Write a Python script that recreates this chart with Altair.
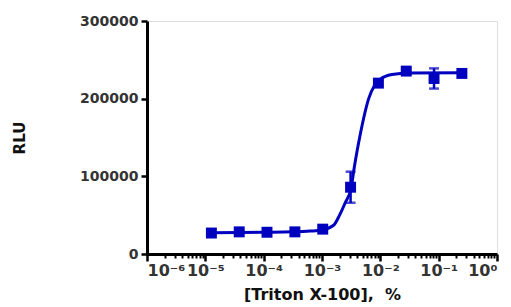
import json
import altair as alt
import pandas as pd

# Measured data points (Triton X-100 %, RLU, SD)
conc = [1.27e-5, 3.81e-5, 1.14e-4, 3.43e-4, 1.03e-3, 3.09e-3, 9.26e-3, 2.78e-2, 8.33e-2, 0.25]
rlu = [27000, 28500, 28000, 28500, 32000, 86000, 220000, 235500, 226000, 232500]
err = [1000, 800, 800, 800, 1500, 20000, 2500, 2000, 13000, 2500]

# Fitted curve
curve_x = [1.27e-5, 1e-4, 3.16e-4, 6.3e-4, 1e-3, 1.58e-3, 2e-3, 2.5e-3, 3.16e-3,
           3.55e-3, 3.98e-3, 4.47e-3, 5.01e-3, 6.31e-3, 7.94e-3, 1e-2, 1.58e-2,
           3.16e-2, 0.25]
curve_y = [27500, 28000, 28500, 29500, 31000, 37000, 50000, 66000, 85000,
           110000, 132000, 152000, 170000, 200000, 217000, 225000, 231000,
           233000, 233500]

# Axis ticks
x_major = [1e-6, 1e-5, 1e-4, 1e-3, 1e-2, 1e-1, 1]
x_labels = ["10⁻⁶", "10⁻⁵", "10⁻⁴", "10⁻³", "10⁻²", "10⁻¹", "10⁰"]
x_minor = [2e-6, 3e-6, 4e-6, 5e-6, 6e-6, 7e-6, 8e-6, 9e-6,
           2e-5, 3e-5, 4e-5, 5e-5, 6e-5, 7e-5, 8e-5, 9e-5,
           2e-4, 3e-4, 4e-4, 5e-4, 6e-4, 7e-4, 8e-4, 9e-4,
           2e-3, 3e-3, 4e-3, 5e-3, 6e-3, 7e-3, 8e-3, 9e-3,
           2e-2, 3e-2, 4e-2, 5e-2, 6e-2, 7e-2, 8e-2, 9e-2,
           0.2, 0.3, 0.4, 0.5, 0.6, 0.7, 0.8, 0.9]
y_ticks = [0, 100000, 200000, 300000]

pts = pd.DataFrame({"x": conc, "y": rlu,
                    "lo": [a - b for a, b in zip(rlu, err)],
                    "hi": [a + b for a, b in zip(rlu, err)]})
curve = pd.DataFrame({"x": curve_x, "y": curve_y})

FONT = "DejaVu Sans"
BLUE = "#0000BF"

xscale = alt.Scale(type="log", domain=[1e-6, 1], nice=False)
yscale = alt.Scale(domain=[0, 300000], nice=False)

label_expr = json.dumps(x_labels, ensure_ascii=False) + "[round(log(datum.value)/LN10)+6]"

xaxis = alt.Axis(values=x_major, labelExpr=label_expr, title="[Triton X-100],\u00a0 %",
                 orient="bottom", grid=False, domainWidth=3, domainColor="black",
                 tickWidth=2.5, tickSize=7, tickColor="black",
                 labelFont=FONT, labelFontSize=16, labelFontWeight="bold",
                 labelColor="#333333", labelPadding=1,
                 titleFont=FONT, titleFontSize=16, titleFontWeight="bold",
                 titleColor="#111111", titlePadding=8)
yaxis = alt.Axis(values=y_ticks, format="d", title="RLU", grid=False,
                 domainWidth=3, domainColor="black", tickWidth=2.5, tickSize=6,
                 tickColor="black", labelFont=FONT, labelFontSize=14,
                 labelFontWeight="bold", labelColor="#333333", labelPadding=3,
                 titleFont=FONT, titleFontSize=15, titleFontWeight="bold",
                 titleColor="#111111", titlePadding=52)

minor = alt.Chart(curve).mark_point(opacity=0).encode(
    x=alt.X("x:Q", scale=xscale,
            axis=alt.Axis(values=x_minor, labels=False, title=None, orient="bottom",
                          domain=False, grid=False, tickWidth=2, tickSize=4,
                          tickColor="black")),
    y=alt.Y("y:Q", scale=yscale, axis=yaxis),
)

line = alt.Chart(curve).mark_line(color=BLUE, strokeWidth=3, interpolate="monotone").encode(
    x=alt.X("x:Q", scale=xscale, axis=xaxis),
    y=alt.Y("y:Q", scale=yscale),
)

X_NOAX = alt.X("x:Q", scale=xscale, axis=None)

bars = alt.Chart(pts).mark_rule(color=BLUE, strokeWidth=2.5).encode(
    x=X_NOAX, y="lo:Q", y2="hi:Q")
caps_hi = alt.Chart(pts).mark_tick(color=BLUE, orient="horizontal", size=10, thickness=2.5).encode(
    x=X_NOAX, y="hi:Q")
caps_lo = alt.Chart(pts).mark_tick(color=BLUE, orient="horizontal", size=10, thickness=2.5).encode(
    x=X_NOAX, y="lo:Q")
points = alt.Chart(pts).mark_point(shape="square", filled=True, color=BLUE, opacity=1, size=120).encode(
    x=X_NOAX, y="y:Q")

chart = alt.layer(minor, line, bars, caps_hi, caps_lo, points).resolve_axis(x="independent").properties(
    width=350, height=233,
    autosize=alt.AutoSizeParams(type="none"),
    padding={"left": 139, "top": 13, "right": 6, "bottom": 52},
).configure_view(stroke=None).configure(background="white")

chart.save("out.html", embed_options={"renderer": "svg", "actions": False})
